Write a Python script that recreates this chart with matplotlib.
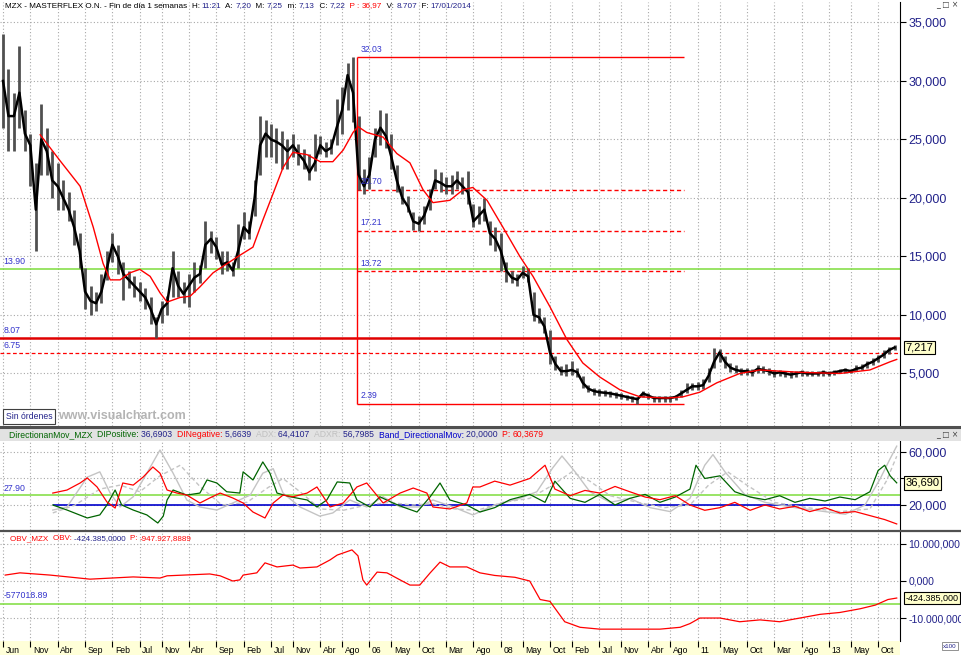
import matplotlib
matplotlib.use('Agg')
import matplotlib.pyplot as plt
from matplotlib.patches import Rectangle
from matplotlib.lines import Line2D
import matplotlib.transforms as mtrans

plt.rcParams['font.family'] = ['Liberation Sans', 'DejaVu Sans']

# x axis: months counted from Jun 2000
tick_months = [0, 5, 10, 15, 20, 25, 29, 34, 39, 44, 49, 53, 58, 62, 67, 71, 76, 81, 86, 91,
               95, 100, 104, 109, 113, 118, 122, 127, 131, 136, 141, 146, 151, 155, 160]
tick_labels = ['Jun', 'Nov', 'Abr', 'Sep', 'Feb', 'Jul', 'Nov', 'Abr', 'Sep', 'Feb', 'Jul', 'Nov',
               'Abr', 'Ago', '06', 'May', 'Oct', 'Mar', 'Ago', '08', 'May', 'Oct', 'Feb', 'Jul',
               'Nov', 'Abr', 'Ago', '11', 'May', 'Oct', 'Mar', 'Ago', '13', 'May', 'Oct']

# monthly price bars
months = list(range(164))
close = [30, 27, 27, 29, 25.5, 24.5, 19, 25, 24, 21.5,
         21, 20, 19, 17.5, 15.5, 12, 11.2, 11, 12, 14,
         16, 15, 13.5, 13, 12.5, 12, 11.5, 10.5, 9.2, 10.5,
         11, 14, 12.5, 11.8, 12.5, 13.2, 13.5, 16, 16.5, 15.8,
         14.3, 14.5, 13.8, 15.5, 17.5, 17, 20, 24.5, 25.5, 25,
         24.8, 24.5, 24, 24.5, 23.8, 23.2, 22.2, 23, 24.5, 24,
         24.3, 26, 27.5, 30.5, 29, 22, 21, 22, 25, 26,
         25.3, 23.5, 21.5, 20, 19.3, 18, 17.8, 18.5, 19.8, 21.5,
         21.3, 21, 21, 21.5, 21, 20.5, 18, 18.5, 19, 17,
         16.5, 15.5, 13.8, 13.2, 13, 13.6, 13.3, 10, 9.8, 9,
         6.8, 5.8, 5.2, 5.2, 5.3, 5.1, 4.2, 3.7, 3.5, 3.4,
         3.35, 3.3, 3.2, 3.1, 3.0, 2.9, 2.8, 3.3, 3.1, 2.9,
         2.9, 2.9, 2.9, 3.0, 3.3, 3.6, 3.9, 3.9, 4.0, 4.8,
         6.0, 6.8, 6.0, 5.5, 5.3, 5.2, 5.2, 5.1, 5.4, 5.3,
         5.2, 5.0, 5.1, 5.0, 4.9, 5.0, 5.1, 5.0, 5.0, 5.0,
         5.1, 5.0, 5.1, 5.2, 5.3, 5.2, 5.4, 5.5, 5.8, 6.0,
         6.3, 6.6, 7.0, 7.22]
low = [26, 24, 24, 26, 24, 21, 15.5, 22, 22, 20,
       19, 19, 18, 16, 14, 10.5, 10, 10.3, 11, 13,
       14.5, 13.5, 11.3, 12.3, 11.5, 11.2, 10.5, 9.2, 8.07, 9.3,
       10, 11.5, 11.5, 11, 10.7, 12, 12.7, 14, 15.3, 14.8,
       13.5, 13.8, 13.3, 14, 16.5, 16.5, 18.5, 22, 23.5, 23.5,
       23, 22.5, 22.5, 23.5, 22.8, 22.5, 21.5, 22.3, 23.8, 23.5,
       23.8, 24.5, 25.5, 27.5, 26.5, 20.7, 20.3, 20.8, 23.5, 24.5,
       24.3, 22.5, 20.5, 19.5, 18.8, 17.3, 17.2, 17.8, 19, 20.8,
       20.5, 20.3, 20.3, 20.8, 20.3, 19.5, 17.5, 17.8, 18, 16,
       15.5, 13.8, 12.8, 12.7, 12.5, 13.2, 12.8, 9.5, 9.3, 8.5,
       5.8, 5.3, 4.9, 4.8, 4.9, 4.7, 3.8, 3.4, 3.2, 3.1,
       3.1, 3.0, 2.9, 2.8, 2.7, 2.6, 2.39, 3.0, 2.8, 2.6,
       2.6, 2.6, 2.6, 2.7, 3.0, 3.3, 3.6, 3.6, 3.7, 4.3,
       5.5, 6.0, 5.5, 5.1, 5.0, 4.9, 4.9, 4.8, 5.0, 5.0,
       4.9, 4.7, 4.8, 4.7, 4.6, 4.7, 4.8, 4.8, 4.8, 4.8,
       4.8, 4.8, 4.9, 5.0, 5.0, 5.0, 5.2, 5.3, 5.5, 5.7,
       6.0, 6.3, 6.7, 7.0]
high = [34, 31, 29, 33, 27.5, 25.5, 23, 28, 26, 24,
        23, 21.5, 20.5, 19, 17, 14, 12.5, 12, 13.5, 15.5,
        17, 16, 14.5, 13.8, 13.3, 12.8, 12.3, 11.5, 9.8, 11.2,
        11.6, 15.5, 13.8, 12.8, 13.5, 14.5, 14.3, 18, 17.2, 16.7,
        15.5, 15.5, 14.5, 17.8, 18.8, 18, 21.5, 27, 26.7, 26.3,
        26, 25.7, 25, 25.5, 24.6, 24.2, 23.8, 25.5, 25.3, 24.8,
        25, 28.5, 29.5, 31.5, 32.03, 27, 22.5, 23.5, 26, 27.5,
        27.3, 25.5, 22.8, 21, 20.2, 18.8, 18.5, 19.3, 20.8, 22.5,
        22.2, 21.8, 22, 22.3, 21.8, 22.3, 19.5, 19.3, 20, 18,
        17.5, 17, 14.5, 13.8, 13.5, 14.2, 14, 12, 10.6, 9.8,
        8.7, 6.5, 5.6, 5.8, 6.1, 5.5, 4.8, 4.0, 3.8, 3.7,
        3.6, 3.5, 3.4, 3.3, 3.2, 3.1, 3.0, 3.5, 3.3, 3.1,
        3.1, 3.1, 3.1, 3.2, 3.6, 4.2, 4.2, 4.3, 4.5, 5.5,
        7.2, 7.1, 6.5, 5.9, 5.7, 5.5, 5.5, 5.4, 5.7, 5.6,
        5.5, 5.3, 5.3, 5.2, 5.2, 5.2, 5.3, 5.2, 5.2, 5.2,
        5.3, 5.2, 5.3, 5.4, 5.5, 5.4, 5.7, 5.8, 6.1, 6.3,
        6.6, 7.0, 7.3, 7.4]

# red moving average
ma_x = [6.8, 10.4, 14.1, 16.5, 18.3, 19.6, 21.4, 23.2, 25.0, 26.9,
        28.7, 30.0, 32.4, 34.2, 36.0, 38.4, 41.0, 43.3, 45.7, 47.5,
        49.4, 51.2, 53.0, 55.6, 58.0, 60.3, 62.2, 64.0, 64.9, 66.5,
        69.5, 72.0, 74.4, 76.8, 78.6, 81.7, 84.1, 85.9, 88.5, 91.4,
        94.5, 96.9, 100.0, 103.1, 106.0, 109.1, 112.8, 116.5, 121.4, 124.3,
        127.4, 130.5, 134.7, 138.4, 145.7, 153.0, 158.5, 162.2, 163.4]
ma_v = [25.4, 23.2, 21, 17.5, 14.4, 13, 13, 13.6, 13.9, 13.3,
        11.9, 11.1, 11.5, 11.6, 12.4, 13.6, 14.4, 15.1, 15.8, 18.1,
        20.4, 22.6, 23.9, 23.7, 23.1, 23.1, 24.1, 25.6, 26.1, 25.6,
        25.2, 23.8, 23, 20.7, 19.6, 19.8, 20.7, 20.9, 19.8, 17.5,
        15, 13.3, 10.7, 7.9, 5.9, 4.7, 3.6, 3.0, 2.9, 3.0,
        3.4, 4.2, 5.0, 5.3, 5.1, 5.0, 5.3, 6.0, 6.2]

# fibonacci retracement
fib_start, fib_end = 64.7, 124.5
fib_levels = [32.03, 20.70, 17.21, 13.72, 2.39]
fib_labels = ['32.03', '20.70', '17.21', '13.72', '2.39']

# directional movement panel
dip_x = [9.1, 11.7, 15.4, 17.7, 19.0, 20.5, 21.7, 23.8, 26.3, 28.3, 29.3, 30.0, 31.1, 33.6, 36.0,
         37.3, 39.1, 40.9, 43.3, 43.9, 45.7, 47.5, 48.8, 50.1, 52.5, 55.6, 57.4, 59.2, 61.1, 63.4,
         64.7, 67.1, 68.9, 71.3, 73.1, 75.7, 78.1, 79.9, 81.7, 84.8, 87.2, 89.9, 92.7, 96.3, 99.1,
         100.9, 103.7, 106.4, 109.1, 111.9, 114.6, 117.4, 120.1, 122.9, 125.6, 126.7, 128.3, 131.1,
         133.8, 136.6, 139.3, 142.0, 144.8, 147.5, 150.3, 153.0, 155.8, 158.5, 160.0, 161.2, 162.2, 163.4]
dip_v = [20, 16.2, 10.2, 12.5, 20, 31.3, 20, 16.2, 12.5, 6.4, 11.6, 23.8, 31.3, 27.5, 29,
         38.9, 36.6, 30, 29, 45, 38.9, 52.5, 44, 29, 26.2, 23.8, 18.5, 23.8, 37.4, 36.6,
         23.8, 18.5, 26.2, 21.5, 18.5, 14.7, 26.2, 36.6, 23.8, 20, 14.7, 18, 24, 28, 22,
         38, 25, 22, 28, 20, 25, 28, 22, 26, 32, 50, 40, 42,
         30, 26, 24, 27, 22, 25, 23, 26, 24, 30, 46, 50, 42, 36.7]
din_x = [9.1, 11.7, 14.1, 15.4, 17.2, 19.0, 20.5, 21.9, 23.8, 25.6, 27.4, 28.7, 30.0, 31.8, 33.6,
         36.0, 37.8, 39.7, 42.0, 43.9, 45.7, 47.9, 49.4, 51.2, 53.0, 55.6, 57.4, 59.8, 62.2, 64.7,
         66.5, 69.5, 72.6, 75.0, 77.5, 78.6, 81.7, 84.8, 85.9, 87.2, 89.9, 92.7, 96.3, 99.1, 100.9,
         103.7, 106.4, 109.1, 111.9, 114.6, 117.4, 120.1, 122.9, 125.6, 128.3, 131.1, 133.8, 136.6,
         139.3, 142.0, 144.8, 147.5, 150.3, 153.0, 155.8, 158.5, 161.2, 163.4]
din_v = [29, 31.3, 36.6, 40.4, 33.6, 22.3, 17.7, 36.6, 35, 41, 48.7, 44, 31.3, 29, 27.5,
         21.5, 25.3, 29, 25.3, 21.5, 14.7, 10.2, 21.5, 27.5, 26.2, 29, 33.6, 18.5, 21.5, 33.6,
         36.6, 21.5, 29, 32.8, 29, 18.5, 17, 21.5, 33.6, 33.6, 38, 35, 40, 50, 32,
         27, 31, 29, 34, 30, 26, 24, 27, 20, 16, 18, 22, 16,
         20, 17, 19, 15, 18, 14, 15, 12, 9, 5.7]
adx_x = [9.1, 11.7, 15.4, 17.7, 19.6, 21.4, 23.8, 26.3, 28.7, 31.1,
         33.6, 36.0, 39.1, 42.0, 45.2, 47.5, 49.4, 51.2, 54.3, 57.9,
         60.3, 63.4, 66.5, 69.5, 72.6, 76.2, 78.6, 82.3, 85.9, 89.9,
         94.5, 97.6, 100.5, 102.2, 104.6, 107.3, 111.0, 114.6, 118.3, 122.0,
         125.6, 128.3, 129.8, 132.0, 135.6, 139.3, 144.8, 150.3, 154.0, 157.6,
         160.4, 162.2, 163.4]
adx_v = [16.2, 18.5, 41, 45, 29, 18.5, 26.2, 44, 61.5, 44,
         23.8, 18.5, 16.2, 21.5, 27.5, 44, 47.4, 29, 18.5, 11.6,
         14, 23.8, 18.5, 26.2, 18.5, 18.5, 23.8, 18.5, 12.5, 20,
         25, 30, 48, 57, 45, 30, 22, 25, 18, 15,
         25, 50, 58, 45, 28, 22, 18, 15, 13, 20,
         40, 55, 64.4]
adxr_x = [9.1, 13.2, 17.7, 21.4, 25.0, 28.7, 32.4, 36.0, 40.0, 44.6,
          48.4, 51.2, 54.3, 58.0, 62.2, 66.5, 70.7, 74.8, 78.6, 82.6,
          86.7, 91.4, 96.3, 100.5, 104.0, 107.3, 111.0, 116.0, 121.0, 125.6,
          129.0, 132.5, 136.0, 141.0, 147.0, 153.0, 158.5, 161.5, 163.4]
adxr_v = [14, 20, 32, 35, 30, 42, 50, 34, 20, 22,
          33, 40, 30, 17, 16, 20, 22, 20, 21, 17,
          16, 22, 25, 35, 45, 38, 27, 22, 18, 20,
          35, 45, 35, 22, 18, 15, 17, 38, 56.8]
band_level = 20.0
dmi_ref = 27.90

# on balance volume panel (axis units: millions as shown on the scale)
obv_x = [0.4, 3.1, 8.6, 15.9, 23.8, 28.7, 30.0, 37.8, 39.7, 42.0,
         43.3, 43.9, 46.4, 47.9, 50.1, 53.0, 54.3, 57.4, 59.8, 61.1,
         63.8, 64.9, 65.8, 66.5, 68.4, 70.2, 72.6, 74.4, 76.2, 78.1,
         79.9, 81.7, 84.8, 87.2, 89.9, 93.6, 96.3, 98.2, 100.0, 102.7,
         105.5, 109.1, 112.8, 116.5, 120.1, 123.8, 125.6, 127.4, 131.1, 134.7,
         138.4, 142.0, 145.7, 149.4, 153.0, 156.7, 159.5, 161.8, 163.4]
obv_v = [1.6, 2.2, 1.6, 0.5, 1.1, 0.8, 1.4, 1.9, 1.4, 0,
         0.3, 1.6, 2.2, 4.9, 3.8, 4.3, 3.5, 3.8, 5.7, 7,
         8.4, 6.8, 0.3, -1.1, 2.4, 2.2, 0.3, -1.1, -1.1, 2.2,
         5.1, 3.8, 3.8, 2.2, 1.5, 1.0, 0, -5, -5.5, -11,
         -12.5, -13, -13, -13, -13, -12.5, -11.5, -10, -10, -11,
         -10.5, -11, -10, -9, -8.5, -7.5, -6.5, -5, -4.6]
obv_ref = -6.2

W, H = 962, 655
NAVY = '#22228a'
BLUE = '#3333cc'
RED = '#ff0000'
DGREEN = '#006400'
LGREEN = '#7ddc3c'
GRID = dict(color='#a8a8a8', linestyle=(0, (1, 2)), linewidth=0.8)
BOX = dict(boxstyle='square,pad=0.15', fc='#ffffcc', ec='black', lw=0.8)


def fy(px):
    return 1 - px / H


def rect(top, bottom):
    return [0, fy(bottom), 900 / W, (bottom - top) / H]


fig = plt.figure(figsize=(W / 100, H / 100), dpi=100)
fig.patch.set_facecolor('white')
renderer = fig.canvas.get_renderer()

xlim = (-0.55, 164.0)

ax = fig.add_axes(rect(2, 426))
ax_dmi = fig.add_axes(rect(428, 530))
ax_obv = fig.add_axes(rect(531, 641))
ax_band = fig.add_axes([0, 0, 900 / W, 14 / H])

for a in (ax, ax_dmi, ax_obv):
    a.set_xlim(*xlim)
    a.set_xticks(tick_months)
    a.tick_params(axis='x', length=0, labelbottom=False)
    a.grid(True, **GRID)
    a.yaxis.tick_right()
    a.tick_params(axis='y', colors='black', labelcolor=NAVY, labelsize=9, length=4, pad=2)
    for s in ('left', 'top', 'bottom'):
        a.spines[s].set_visible(False)
    a.spines['right'].set_color('black')

# ---- price panel
ax.set_ylim(0.51, 36.75)
ax.set_yticks([5, 10, 15, 20, 25, 30, 35])
ax.set_yticklabels(['5,000', '10,000', '15,000', '20,000', '25,000', '30,000', '35,000'])
ax.vlines(months, low, high, color='#505050', lw=2.0, zorder=3)
ax.plot(months, close, color='black', lw=1.8, zorder=4)
ax.plot(ma_x, ma_v, color=RED, lw=1.0, zorder=5)

left_tr = mtrans.blended_transform_factory(ax.transAxes, ax.transData)
ax.axhline(13.90, color=LGREEN, lw=1.1, zorder=2)
ax.axhline(8.07, color='#e00000', lw=1.8, zorder=2)
ax.axhline(6.75, color=RED, lw=0.9, ls=(0, (3, 2)), zorder=2)
for lv, lab in [(13.90, '13.90'), (8.07, '8.07'), (6.75, '6.75')]:
    ax.text(0.004, lv + 0.25, lab, transform=left_tr, color=BLUE, fontsize=6.3, va='bottom')

ax.vlines(fib_start, fib_levels[-1], fib_levels[0], color=RED, lw=1.0, zorder=2)
for i, (lv, lab) in enumerate(zip(fib_levels, fib_labels)):
    solid = i in (0, len(fib_levels) - 1)
    ax.hlines(lv, fib_start, fib_end, color=RED, lw=1.0,
              ls='-' if solid else (0, (3, 2)), zorder=2)
    ax.text(fib_start + 0.6, lv + 0.3, lab, color=BLUE, fontsize=6.2, va='bottom', zorder=6)

ax.text(1.006, close[-1], '7,217', transform=left_tr, fontsize=8, va='center', ha='left',
        bbox=BOX, clip_on=False)

# ---- DMI panel
ax_dmi.set_ylim(1.13, 78.1)
ax_dmi.set_yticks([20, 40, 60])
ax_dmi.set_yticklabels(['20,000', '', '60,000'])
dmi_tr = mtrans.blended_transform_factory(ax_dmi.transAxes, ax_dmi.transData)
ax_dmi.axhline(dmi_ref, color=LGREEN, lw=1.1, zorder=2)
ax_dmi.hlines(band_level, dip_x[0], xlim[1], color='#0000cc', lw=1.2, zorder=2)
ax_dmi.plot(adxr_x, adxr_v, color='#c4c4c4', lw=1.0, ls=(0, (3, 2)), zorder=3)
ax_dmi.plot(adx_x, adx_v, color='#c4c4c4', lw=1.0, zorder=3)
ax_dmi.plot(dip_x, dip_v, color=DGREEN, lw=0.9, zorder=4)
ax_dmi.plot(din_x, din_v, color=RED, lw=0.9, zorder=4)
ax_dmi.text(0.004, dmi_ref + 1.5, '27.90', transform=dmi_tr, color=BLUE, fontsize=6.3, va='bottom')
ax_dmi.text(1.006, dip_v[-1], '36,690', transform=dmi_tr, fontsize=8, va='center', ha='left',
            bbox=BOX, clip_on=False)

# ---- OBV panel
ax_obv.set_ylim(-16.2, 13.5)
ax_obv.set_yticks([10, 0, -10])
ax_obv.set_yticklabels(['10.000,000', '0,000', '-10.000,000'])
ax_obv.tick_params(axis='y', labelsize=7.6)
obv_tr = mtrans.blended_transform_factory(ax_obv.transAxes, ax_obv.transData)
ax_obv.axhline(obv_ref, color=LGREEN, lw=1.1, zorder=2)
ax_obv.plot(obv_x, obv_v, color=RED, lw=0.9, zorder=4)
ax_obv.text(0.004, obv_ref + 1.0, '-577018.89', transform=obv_tr, color=BLUE, fontsize=6.3,
            va='bottom')
ax_obv.text(1.006, obv_v[-1], '-424.385,000', transform=obv_tr, fontsize=6.5, va='center',
            ha='left', bbox=BOX, clip_on=False)

# ---- date band
ax_band.set_facecolor('#ffffd8')
ax_band.set_xlim(*xlim)
ax_band.set_ylim(0, 1)
ax_band.set_xticks([])
ax_band.set_yticks([])
for s in ax_band.spines.values():
    s.set_visible(False)
ax_band.vlines(tick_months, 0.55, 1.0, color='black', lw=0.8)
for m, lab in zip(tick_months, tick_labels):
    ax_band.text(m + 0.45, 0.3, lab, fontsize=6.2, va='center', ha='left')

# ---- separators and header band
fig.add_artist(Line2D([0, 1], [fy(427), fy(427)], color='#505050', lw=2.2))
fig.add_artist(Line2D([0, 1], [fy(530.5), fy(530.5)], color='#505050', lw=1.6))
fig.add_artist(Rectangle((0, fy(441)), 1, 13 / H, fc='#e2e2e2', ec='none', zorder=1))


def chain(x_px, y_px, parts, size):
    # coloured pieces of one header line, placed one after the other
    x = x_px / W
    for s, c in parts:
        t = fig.text(x, fy(y_px), s, color=c, fontsize=size, va='center', zorder=5)
        x += t.get_window_extent(renderer).width / W


chain(5, 6, [('MZX - MASTERFLEX O.N. - Fin de día 1 semanas  ', 'black'),
             ('H: ', 'black'), ('11:21', NAVY), ('  A: ', 'black'), ('7,20', NAVY),
             ('  M: ', 'black'), ('7,25', NAVY), ('  m: ', 'black'), ('7,13', NAVY),
             ('  C: ', 'black'), ('7,22', NAVY), ('  P : ', RED), ('36,97', RED),
             ('  V: ', 'black'), ('8.707', NAVY), ('  F: ', 'black'), ('17/01/2014', NAVY)], 5.9)
chain(9, 434.5, [('DirectionanMov_MZX  ', DGREEN), ('DIPositive: ', DGREEN), ('36,6903  ', NAVY),
                 ('DINegative: ', RED), ('5,6639  ', NAVY), ('ADX: ', '#c0c0c0'),
                 ('64,4107  ', NAVY), ('ADXR: ', '#c0c0c0'), ('56,7985  ', NAVY),
                 ('Band_DirectionalMov: ', '#0000cc'), ('20,0000  ', NAVY), ('P: ', RED),
                 ('60,3679', RED)], 6.2)
chain(10, 539, [('OBV_MZX  ', RED), ('OBV: ', RED), ('-424.385,0000  ', NAVY), ('P: ', RED),
                ('-947.927,8889', RED)], 5.8)

for ypx in (5, 434.5):
    fig.text(958 / W, fy(ypx), '_ □ ×', fontsize=5.5, ha='right', va='center', color='#404040',
             family='DejaVu Sans', zorder=5)

# ---- watermark and small boxes
fig.text(6 / W, fy(416.5), 'Sin órdenes', fontsize=6.2, color=NAVY, va='center',
         bbox=dict(boxstyle='square,pad=0.3', fc='white', ec='#404040', lw=0.8))
fig.text(58 / W, fy(416), 'www.visualchart.com', fontsize=9, fontweight='bold', color='#b4b4b4',
         va='center')
fig.text(957 / W, fy(646), 'x100', fontsize=4.5, color=NAVY, ha='right', va='center',
         bbox=dict(boxstyle='square,pad=0.2', fc='white', ec='#808080', lw=0.6))

fig.savefig('out.png', dpi=100)
